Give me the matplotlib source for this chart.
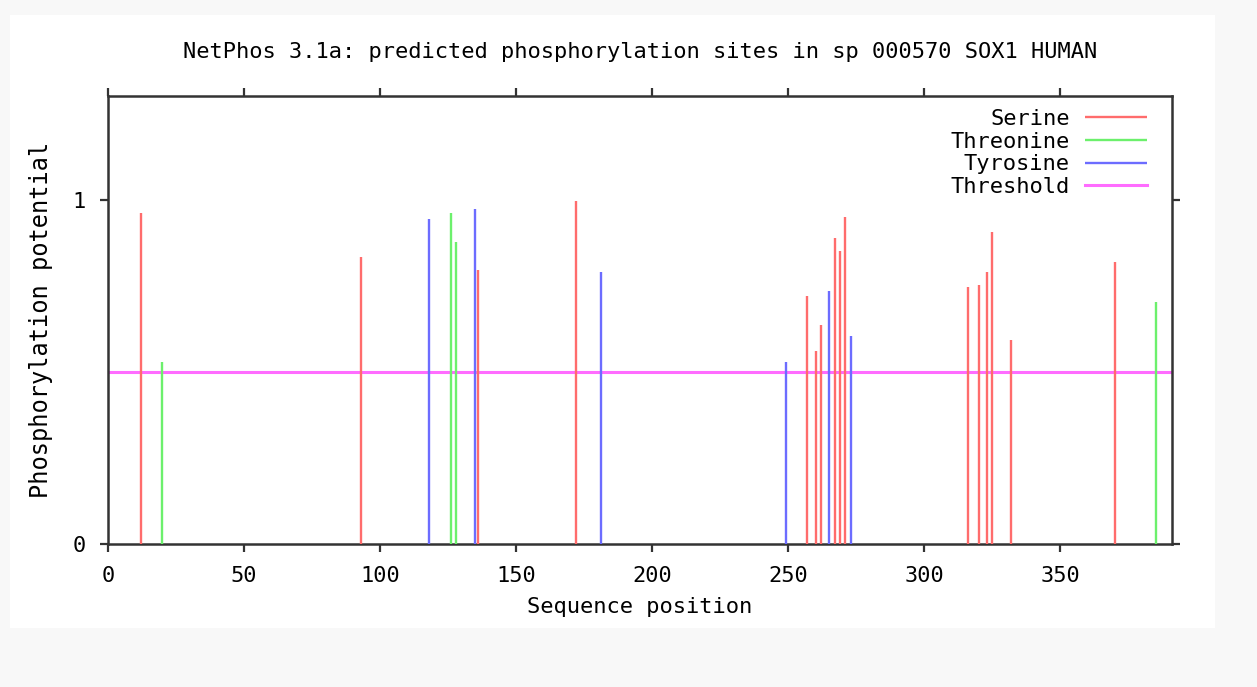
import matplotlib
matplotlib.use("Agg")
import matplotlib.pyplot as plt
from matplotlib.patches import Rectangle

# ---- data ----
serine_pos = [12, 93, 136, 172, 257, 260, 262, 267, 269, 271, 316, 320, 323, 325, 332, 370]
serine_val = [0.963, 0.833, 0.797, 0.998, 0.722, 0.561, 0.636, 0.889, 0.852, 0.951,
              0.746, 0.753, 0.790, 0.907, 0.593, 0.821]
threonine_pos = [20, 126, 128, 385]
threonine_val = [0.530, 0.963, 0.877, 0.703]
tyrosine_pos = [118, 135, 181, 249, 265, 273]
tyrosine_val = [0.945, 0.975, 0.790, 0.530, 0.735, 0.605]
threshold = 0.5
seq_len = 391
xticks = [0, 50, 100, 150, 200, 250, 300, 350]
yticks = [0, 1]

title = "NetPhos 3.1a: predicted phosphorylation sites in sp 000570 SOX1 HUMAN"

FONT = "DejaVu Sans Mono"
FS = 15.8
AXC = "#333333"

W, H = 1257, 687
fig = plt.figure(figsize=(W / 100, H / 100), dpi=100, facecolor="#f8f8f8")
fig.patches.append(Rectangle((10 / W, 1 - 628 / H), (1215 - 10) / W, (628 - 15) / H,
                             transform=fig.transFigure, facecolor="white",
                             edgecolor="none", zorder=-5))

ax = fig.add_axes([108 / W, 1 - 544 / H, (1172 - 108) / W, (544 - 96) / H])
ax.set_zorder(2)
ax.set_facecolor("white")

c_ser, c_thr, c_tyr, c_th = "#ff6c6c", "#6cf06c", "#6c6cff", "#ff6cff"
lw = 1.7
ax.vlines(serine_pos, 0, serine_val, color=c_ser, lw=lw, label="Serine", zorder=3)
ax.vlines(threonine_pos, 0, threonine_val, color=c_thr, lw=lw, label="Threonine", zorder=3)
ax.vlines(tyrosine_pos, 0, tyrosine_val, color=c_tyr, lw=lw, label="Tyrosine", zorder=3)
ax.axhline(threshold, color=c_th, lw=2.2, label="Threshold", zorder=2)

ax.set_xlim(0, seq_len)
ax.set_ylim(0, 1.302)
ax.set_xticks(xticks)
ax.set_xticklabels([str(t) for t in xticks], fontfamily=FONT, fontsize=FS)
ax.set_yticks(yticks)
ax.set_yticklabels([str(t) for t in yticks], fontfamily=FONT, fontsize=FS)
ax.tick_params(axis="both", direction="out", length=6, width=1.6, color=AXC,
               top=True, right=True, labeltop=False, labelright=False, pad=10)
for s in ax.spines.values():
    s.set_color(AXC)
    s.set_linewidth(1.8)

ax.set_xlabel("Sequence position", fontfamily=FONT, fontsize=FS, labelpad=8)
ax.set_ylabel("Phosphorylation potential", fontfamily=FONT, fontsize=17, labelpad=14)

fig.text(640 / W, 1 - 52 / H, title, ha="center", va="center",
         fontfamily=FONT, fontsize=FS)

leg = ax.legend(loc="upper right", markerfirst=False, frameon=False,
                prop={"family": FONT, "size": FS}, handlelength=2.85,
                labelspacing=0.12, handletextpad=0.68,
                borderaxespad=0.2, bbox_to_anchor=(0.989, 1.0))

fig.savefig("out.png", dpi=100, facecolor=fig.get_facecolor())
